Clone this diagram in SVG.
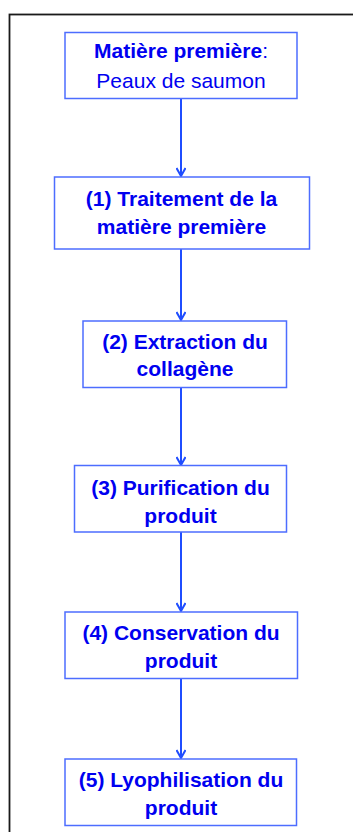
<svg xmlns="http://www.w3.org/2000/svg" width="353" height="832" viewBox="0 0 353 832">
<style>
.box{fill:#fff;stroke:#4d6dff;stroke-width:1.5}
.t{font-family:"Liberation Sans",Arial,sans-serif;font-size:21px;fill:#0000f0;text-anchor:middle}
.b{font-weight:bold}
.c{stroke:#1f4dff;stroke-width:2;fill:none;marker-end:url(#ah)}
</style>
<defs>
<marker id="ah" viewBox="0 0 12 10" refX="11" refY="5" markerWidth="12" markerHeight="10" markerUnits="userSpaceOnUse" orient="auto">
<polyline points="3,0.5 11,5 3,9.5" fill="none" stroke="#1f4dff" stroke-width="2"/>
</marker>
</defs>
<rect x="0" y="0" width="353" height="832" fill="#fff"/>
<rect x="9.5" y="14.5" width="400" height="900" fill="none" stroke="#1a1a1a" stroke-width="1.8"/>
<g id="connectors">
<line class="c" x1="181" y1="99" x2="181" y2="176"/>
<line class="c" x1="181" y1="249" x2="181" y2="320"/>
<line class="c" x1="181" y1="388" x2="181" y2="465"/>
<line class="c" x1="181" y1="532" x2="181" y2="611"/>
<line class="c" x1="181" y1="679" x2="181" y2="758"/>
</g>
<g id="n0">
<rect class="box" x="65" y="32.5" width="232" height="66"/>
<text class="t" x="181" y="58"><tspan class="b">Matière première</tspan>:</text>
<text class="t" x="181" y="88">Peaux de saumon</text>
</g>
<g id="n1">
<rect class="box" x="54.5" y="177" width="255" height="72"/>
<text class="t b" x="181.5" y="206">(1) Traitement de la</text>
<text class="t b" x="181.5" y="234">matière première</text>
</g>
<g id="n2">
<rect class="box" x="83" y="321" width="203.5" height="66.5"/>
<text class="t b" x="185" y="349">(2) Extraction du</text>
<text class="t b" x="185" y="376">collagène</text>
</g>
<g id="n3">
<rect class="box" x="74.5" y="465.5" width="212" height="66.5"/>
<text class="t b" x="180.5" y="495">(3) Purification du</text>
<text class="t b" x="180.5" y="523">produit</text>
</g>
<g id="n4">
<rect class="box" x="65" y="612" width="232.5" height="66.5"/>
<text class="t b" x="181" y="640">(4) Conservation du</text>
<text class="t b" x="181" y="668">produit</text>
</g>
<g id="n5">
<rect class="box" x="65" y="759" width="231.5" height="66.5"/>
<text class="t b" x="181" y="787">(5) Lyophilisation du</text>
<text class="t b" x="181" y="815">produit</text>
</g>
</svg>
